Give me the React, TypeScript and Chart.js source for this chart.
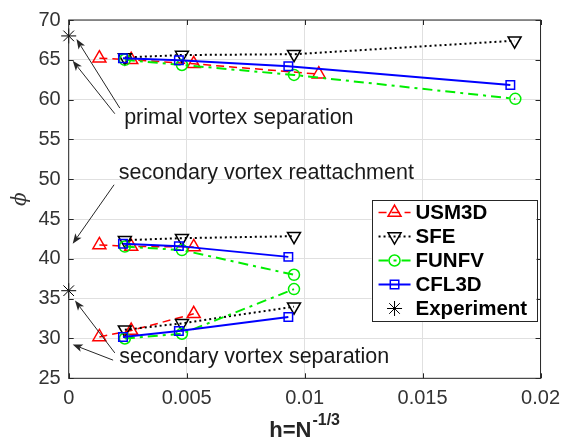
import React, { useEffect, useRef } from 'react';
import { Chart, registerables } from 'chart.js';
import { drawPoint } from 'chart.js/helpers';

Chart.register(...registerables);

// ---- axis ticks ----
const xTicks = [0, 0.005, 0.01, 0.015, 0.02];
const xTickLabels = ['0', '0.005', '0.01', '0.015', '0.02'];
const yTicks = [25, 30, 35, 40, 45, 50, 55, 60, 65, 70];
const yTickLabels = ['25', '30', '35', '40', '45', '50', '55', '60', '65', '70'];

// ---- series (h = N^-1/3) ----
const usm3dH = [0.0013, 0.00265, 0.0053, 0.0106];
const usm3dPrimal = [65.2, 65.0, 64.5, 63.2];
const usm3dReattach = [41.75, 41.55, 41.5];
const usm3dSeparation = [30.2, 31.0, 33.1];

const sfeH = [0.00238, 0.0048, 0.00955, 0.0189];
const sfePrimal = [65.3, 65.6, 65.7, 67.4];
const sfeReattach = [42.35, 42.6, 42.85];
const sfeSeparation = [31.1, 31.9, 34.0];

const funfvH = [0.00238, 0.0048, 0.00955, 0.01893];
const funfvPrimal = [65.0, 64.35, 63.1, 60.1];
const funfvReattach = [41.55, 41.1, 38.0];
const funfvSeparation = [30.0, 30.6, 36.2];

const cfl3dH = [0.0023, 0.00467, 0.00931, 0.01872];
const cfl3dPrimal = [65.2, 64.95, 64.2, 61.85];
const cfl3dReattach = [41.9, 41.6, 40.25];
const cfl3dSeparation = [30.2, 30.95, 32.7];

const experimentH = [0, 0];
const experimentPhi = [68, 36];

// ---- annotations (data coordinates) ----
const noteLabels = ['primal vortex separation', 'secondary vortex reattachment', 'secondary vortex separation'];
const noteX = [0.00235, 0.00212, 0.00214];
const noteY = [56.99, 50.09, 26.87];

const arrowTailX = [0.002165, 0.001954, 0.001924, 0.001954, 0.001882];
const arrowTailY = [58.94, 58.23, 49.31, 28.19, 27.28];
const arrowHeadX = [0.000329, 0.000169, 0.000169, 0.000266, 0.000169];
const arrowHeadY = [67.61, 64.89, 41.9, 34.76, 29.24];

const AXIS = '#262626';
const TICK_TEXT = '#333333';
const GRID = '#e0e0e0';
const SANS = '"Liberation Sans", Arial, Helvetica, sans-serif';

function grouped(h: number[], ...groups: number[][]) {
  const out: { x: number; y: number | null }[] = [];
  groups.forEach((g, gi) => {
    if (gi > 0) out.push({ x: h[0], y: null });
    g.forEach((v, i) => out.push({ x: h[i], y: v }));
  });
  return out;
}

function drawArrow(ctx: CanvasRenderingContext2D, x0: number, y0: number, x1: number, y1: number) {
  const dx = x1 - x0, dy = y1 - y0;
  const len = Math.hypot(dx, dy);
  const ux = dx / len, uy = dy / len;
  const px = -uy, py = ux;
  const hl = 10, hw = 3.8;
  const bx = x1 - ux * hl, by = y1 - uy * hl;
  const nx = x1 - ux * hl * 0.75, ny = y1 - uy * hl * 0.75;
  ctx.beginPath();
  ctx.moveTo(x0, y0);
  ctx.lineTo(nx, ny);
  ctx.stroke();
  ctx.beginPath();
  ctx.moveTo(x1, y1);
  ctx.lineTo(bx + px * hw, by + py * hw);
  ctx.lineTo(nx, ny);
  ctx.lineTo(bx - px * hw, by - py * hw);
  ctx.closePath();
  ctx.fill();
}

const overlay = {
  id: 'overlay',
  afterDatasetsDraw(chart: any) {
    const { ctx, chartArea: a, scales } = chart;
    const xs = scales.x, ys = scales.y;
    ctx.save();

    // arrows
    ctx.strokeStyle = AXIS;
    ctx.fillStyle = AXIS;
    ctx.lineWidth = 1;
    for (let i = 0; i < arrowTailX.length; i++) {
      drawArrow(
        ctx,
        xs.getPixelForValue(arrowTailX[i]), ys.getPixelForValue(arrowTailY[i]),
        xs.getPixelForValue(arrowHeadX[i]), ys.getPixelForValue(arrowHeadY[i])
      );
    }

    // annotation text
    ctx.fillStyle = '#1a1a1a';
    ctx.font = `21.5px ${SANS}`;
    ctx.textAlign = 'left';
    ctx.textBaseline = 'alphabetic';
    noteLabels.forEach((t, i) => {
      ctx.fillText(t, xs.getPixelForValue(noteX[i]), ys.getPixelForValue(noteY[i]));
    });

    // axes box
    ctx.strokeStyle = AXIS;
    ctx.lineWidth = 1;
    ctx.strokeRect(a.left, a.top, a.right - a.left, a.bottom - a.top);

    // inner tick marks
    const tl = 5;
    ctx.beginPath();
    xTicks.forEach((v) => {
      const px = Math.round(xs.getPixelForValue(v)) + 0.5;
      ctx.moveTo(px, a.bottom); ctx.lineTo(px, a.bottom - tl);
      ctx.moveTo(px, a.top); ctx.lineTo(px, a.top + tl);
    });
    yTicks.forEach((v) => {
      const py = Math.round(ys.getPixelForValue(v)) + 0.5;
      ctx.moveTo(a.left, py); ctx.lineTo(a.left + tl, py);
      ctx.moveTo(a.right, py); ctx.lineTo(a.right - tl, py);
    });
    ctx.stroke();

    // legend
    const lw = 165, lh = 121;
    const lx = a.right - 4 - lw;
    const ly = a.top + 180;
    ctx.fillStyle = '#fff';
    ctx.fillRect(lx, ly, lw, lh);
    ctx.strokeStyle = AXIS;
    ctx.lineWidth = 1;
    ctx.strokeRect(Math.round(lx) + 0.5, Math.round(ly) + 0.5, lw, lh);
    chart.data.datasets.forEach((ds: any, i: number) => {
      const cy = ly + 12.5 + i * 24;
      if (ds.showLine !== false) {
        ctx.save();
        ctx.strokeStyle = ds.borderColor;
        ctx.lineWidth = ds.borderWidth;
        ctx.setLineDash(ds.borderDash || []);
        ctx.beginPath();
        ctx.moveTo(lx + 7, cy);
        ctx.lineTo(lx + 39, cy);
        ctx.stroke();
        ctx.restore();
      }
      ctx.save();
      ctx.strokeStyle = ds.pointBorderColor;
      ctx.fillStyle = 'rgba(0,0,0,0)';
      ctx.lineWidth = ds.pointBorderWidth;
      drawPoint(ctx, { pointStyle: ds.pointStyle, radius: ds.pointRadius, rotation: ds.pointRotation || 0, borderWidth: ds.pointBorderWidth } as any, lx + 23, cy);
      ctx.restore();
      ctx.fillStyle = '#000';
      ctx.font = `bold 20.5px ${SANS}`;
      ctx.textAlign = 'left';
      ctx.textBaseline = 'middle';
      ctx.fillText(ds.label, lx + 44, cy + 1);
    });

    // x-axis title with superscript
    const main = 'h=N';
    const sup = '-1/3';
    ctx.fillStyle = AXIS;
    ctx.textBaseline = 'alphabetic';
    ctx.font = `bold 22px ${SANS}`;
    const mw = ctx.measureText(main).width;
    ctx.font = `bold 16px ${SANS}`;
    const sw = ctx.measureText(sup).width;
    const cx = (a.left + a.right) / 2;
    const sx = cx - (mw + sw + 1) / 2;
    const base = a.bottom + 58.4;
    ctx.font = `bold 22px ${SANS}`;
    ctx.fillText(main, sx, base);
    ctx.font = `bold 16px ${SANS}`;
    ctx.fillText(sup, sx + mw + 1, base - 11.5);

    ctx.restore();
  },
};

export default function App() {
  const ref = useRef<HTMLCanvasElement>(null);
  useEffect(() => {
    document.body.style.margin = '0';
    const pointCommon = { pointBackgroundColor: 'rgba(0,0,0,0)', pointBorderWidth: 1.5, clip: false as any };
    const chart = new Chart(ref.current as HTMLCanvasElement, {
      type: 'scatter',
      data: {
        datasets: [
          {
            label: 'USM3D',
            data: grouped(usm3dH, usm3dPrimal, usm3dReattach, usm3dSeparation),
            showLine: true,
            borderColor: '#ff0000',
            borderWidth: 1.5,
            borderDash: [8, 5],
            pointStyle: 'triangle',
            pointRadius: 7.5,
            pointBorderColor: '#ff0000',
            order: 5,
            ...pointCommon,
          } as any,
          {
            label: 'SFE',
            data: grouped(sfeH, sfePrimal, sfeReattach, sfeSeparation),
            showLine: true,
            borderColor: '#000000',
            borderWidth: 2,
            borderDash: [2, 3],
            pointStyle: 'triangle',
            pointRotation: 180,
            pointRadius: 7.5,
            pointBorderColor: '#000000',
            order: 4,
            ...pointCommon,
          } as any,
          {
            label: 'FUNFV',
            data: grouped(funfvH, funfvPrimal, funfvReattach, funfvSeparation),
            showLine: true,
            borderColor: '#00ee00',
            borderWidth: 2,
            borderDash: [10, 5, 3, 5],
            pointStyle: 'circle',
            pointRadius: 5.5,
            pointBorderColor: '#00ee00',
            order: 3,
            ...pointCommon,
          } as any,
          {
            label: 'CFL3D',
            data: grouped(cfl3dH, cfl3dPrimal, cfl3dReattach, cfl3dSeparation),
            showLine: true,
            borderColor: '#0000ff',
            borderWidth: 2,
            borderDash: [],
            pointStyle: 'rect',
            pointRadius: 6,
            pointBorderColor: '#0000ff',
            order: 2,
            ...pointCommon,
          } as any,
          {
            label: 'Experiment',
            data: experimentH.map((h, i) => ({ x: h, y: experimentPhi[i] })),
            showLine: false,
            borderColor: '#000000',
            pointStyle: 'star',
            pointRadius: 7.5,
            pointBorderColor: '#000000',
            order: 1,
            ...pointCommon,
            pointBorderWidth: 1,
          } as any,
        ],
      },
      options: {
        animation: false,
        responsive: false,
        devicePixelRatio: 1,
        spanGaps: false,
        layout: { padding: { top: 17.3, right: 25.3, left: 0, bottom: 0 } },
        plugins: { legend: { display: false }, tooltip: { enabled: false } },
        events: [],
        scales: {
          x: {
            type: 'linear',
            min: 0,
            max: 0.02,
            afterBuildTicks: (s: any) => { s.ticks = xTicks.map((v) => ({ value: v })); },
            afterFit: (s: any) => { s.height = 443 - 17.3 - 361; },
            ticks: {
              autoSkip: false,
              maxRotation: 0,
              padding: 8,
              color: TICK_TEXT,
              font: { family: SANS, size: 20 },
              callback: (_v: any, i: number) => xTickLabels[i],
            },
            grid: { color: GRID, drawTicks: false, lineWidth: 1 },
            border: { display: false },
          },
          y: {
            type: 'linear',
            min: 25,
            max: 70,
            afterBuildTicks: (s: any) => { s.ticks = yTicks.map((v) => ({ value: v })); },
            afterFit: (s: any) => { s.width = 68.7; },
            ticks: {
              autoSkip: false,
              padding: 8,
              color: TICK_TEXT,
              font: { family: SANS, size: 20 },
              callback: (_v: any, i: number) => yTickLabels[i],
            },
            grid: { color: GRID, drawTicks: false, lineWidth: 1 },
            border: { display: false },
            title: {
              display: true,
              text: 'ϕ',
              color: TICK_TEXT,
              font: { family: '"DejaVu Serif", serif', style: 'italic', size: 20 },
              padding: { top: 9, bottom: 0 },
            },
          },
        },
      },
      plugins: [overlay],
    } as any);
    return () => chart.destroy();
  }, []);
  return (
    <div style={{ width: 568, height: 443, background: '#fff' }}>
      <canvas ref={ref} width={568} height={443} style={{ display: 'block', width: 568, height: 443 }} />
    </div>
  );
}
